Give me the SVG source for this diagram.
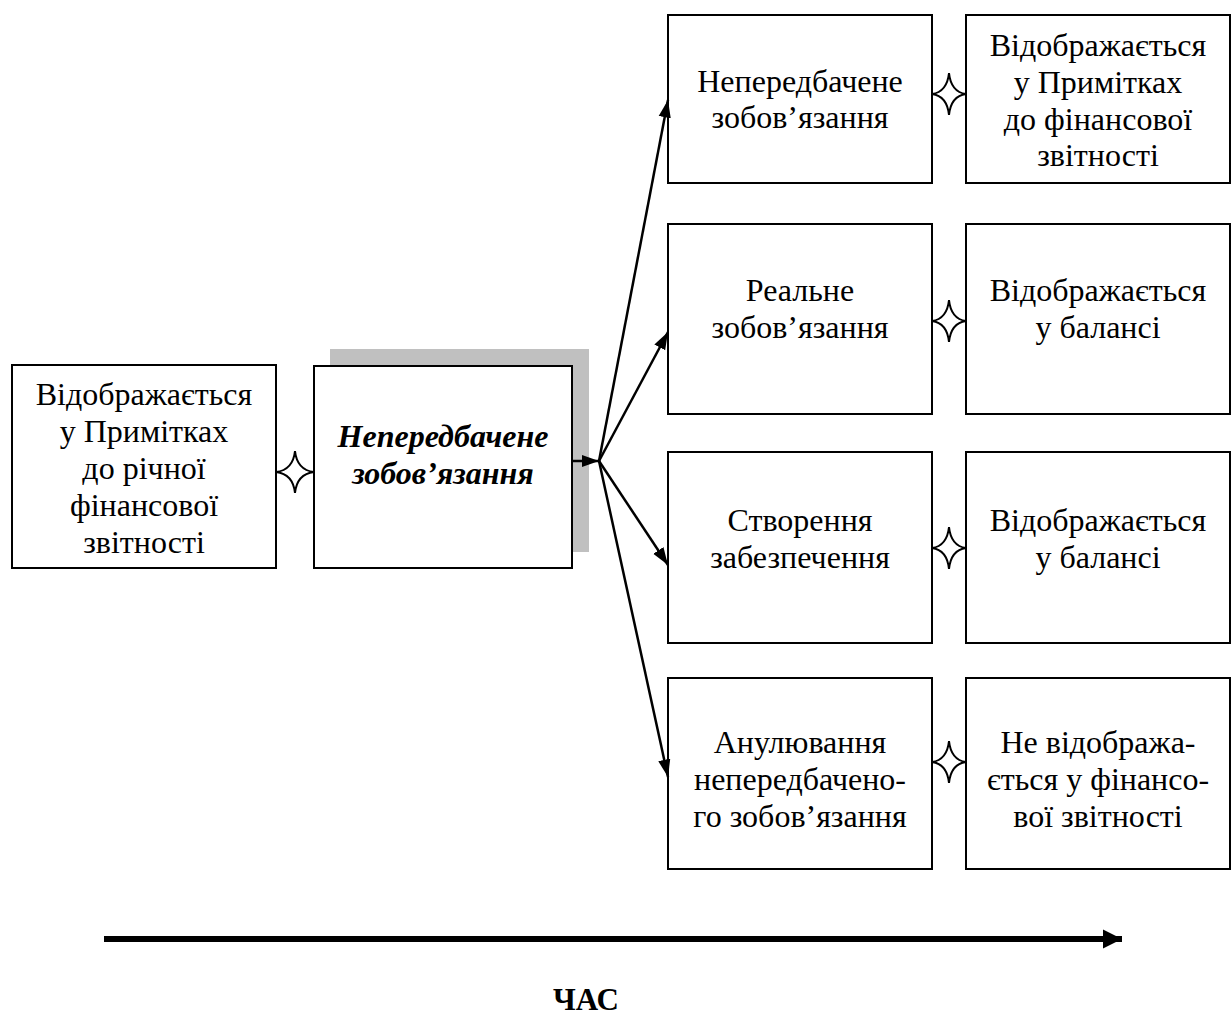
<svg xmlns="http://www.w3.org/2000/svg" width="1232" height="1021" viewBox="0 0 1232 1021">
<defs>
<style>
.box{fill:#fff;stroke:#000;stroke-width:2}
.t{font-family:"Liberation Serif","Times New Roman",serif;font-size:32px;fill:#000;text-anchor:middle}
.bi{font-weight:bold;font-style:italic}
.star{fill:#fff;stroke:#000;stroke-width:2;stroke-linejoin:miter}
.ln{stroke:#000;stroke-width:2.5;fill:none}
</style>
<marker id="ah" viewBox="0 0 10 10" refX="10" refY="5" markerWidth="7" markerHeight="7" markerUnits="strokeWidth" orient="auto">
<path d="M0,1.5 L10,5 L0,8.5 Z" fill="#000"/>
</marker>
<marker id="ahb" viewBox="0 0 10 10" refX="10" refY="5" markerWidth="3.2" markerHeight="3.2" markerUnits="strokeWidth" orient="auto">
<path d="M0,0 L10,5 L0,10 Z" fill="#000"/>
</marker>
</defs>

<g id="left">
<rect class="box" x="12" y="365" width="264" height="203"/>
<text class="t" x="144" y="405">Відображається</text>
<text class="t" x="144" y="442">у Примітках</text>
<text class="t" x="144" y="479">до річної</text>
<text class="t" x="144" y="516">фінансової</text>
<text class="t" x="144" y="553">звітності</text>
</g>

<g id="main">
<rect x="330" y="349" width="259" height="203" fill="#c0c0c0"/>
<rect class="box" x="314" y="366" width="258" height="202"/>
<text class="t bi" x="443" y="447">Непередбачене</text>
<text class="t bi" x="443" y="484">зобов’язання</text>
</g>

<g id="r1a">
<rect class="box" x="668" y="15" width="264" height="168"/>
<text class="t" x="800" y="92">Непередбачене</text>
<text class="t" x="800" y="128">зобов’язання</text>
</g>
<g id="r1b">
<rect class="box" x="966" y="15" width="264" height="168"/>
<text class="t" x="1098" y="56">Відображається</text>
<text class="t" x="1098" y="93">у Примітках</text>
<text class="t" x="1098" y="130">до фінансової</text>
<text class="t" x="1098" y="166">звітності</text>
</g>

<g id="r2a">
<rect class="box" x="668" y="224" width="264" height="190"/>
<text class="t" x="800" y="301">Реальне</text>
<text class="t" x="800" y="338">зобов’язання</text>
</g>
<g id="r2b">
<rect class="box" x="966" y="224" width="264" height="190"/>
<text class="t" x="1098" y="301">Відображається</text>
<text class="t" x="1098" y="338">у балансі</text>
</g>

<g id="r3a">
<rect class="box" x="668" y="452" width="264" height="191"/>
<text class="t" x="800" y="531">Створення</text>
<text class="t" x="800" y="568">забезпечення</text>
</g>
<g id="r3b">
<rect class="box" x="966" y="452" width="264" height="191"/>
<text class="t" x="1098" y="531">Відображається</text>
<text class="t" x="1098" y="568">у балансі</text>
</g>

<g id="r4a">
<rect class="box" x="668" y="678" width="264" height="191"/>
<text class="t" x="800" y="753">Анулювання</text>
<text class="t" x="800" y="790">непередбачено-</text>
<text class="t" x="800" y="827">го зобов’язання</text>
</g>
<g id="r4b">
<rect class="box" x="966" y="678" width="264" height="191"/>
<text class="t" x="1098" y="753">Не відобража-</text>
<text class="t" x="1098" y="790">ється у фінансо-</text>
<text class="t" x="1098" y="827">вої звітності</text>
</g>

<g id="connectors">
<path class="star" d="M295,451 Q297,470 314,472 Q297,474 295,493 Q293,474 276,472 Q293,470 295,451 Z"/>
<path class="star" d="M949,73 Q951,92 966,94 Q951,96 949,115 Q947,96 932,94 Q947,92 949,73 Z"/>
<path class="star" d="M949,300 Q951,319 966,321 Q951,323 949,342 Q947,323 932,321 Q947,319 949,300 Z"/>
<path class="star" d="M949,527 Q951,546 966,548 Q951,550 949,569 Q947,550 932,548 Q947,546 949,527 Z"/>
<path class="star" d="M949,741 Q951,760 966,762 Q951,764 949,783 Q947,764 932,762 Q947,760 949,741 Z"/>
<line class="ln" x1="573" y1="461" x2="599" y2="461" marker-end="url(#ah)"/>
<line class="ln" x1="599" y1="461" x2="668" y2="100" marker-end="url(#ah)"/>
<line class="ln" x1="599" y1="461" x2="668" y2="332" marker-end="url(#ah)"/>
<line class="ln" x1="599" y1="461" x2="668" y2="565" marker-end="url(#ah)"/>
<line class="ln" x1="599" y1="461" x2="668" y2="777" marker-end="url(#ah)"/>
<line x1="104" y1="939" x2="1122" y2="939" stroke="#000" stroke-width="6" marker-end="url(#ahb)"/>
</g>

<text x="586" y="1010" font-family="Liberation Serif, Times New Roman, serif" font-size="31" font-weight="bold" text-anchor="middle">ЧАС</text>
</svg>
